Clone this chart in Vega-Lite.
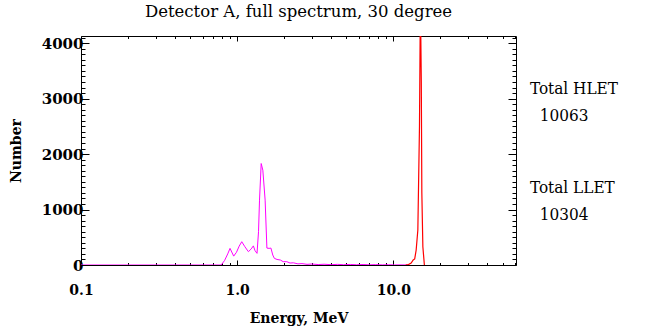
{
  "$schema": "https://vega.github.io/schema/vega-lite/v6.json",
  "width": 435,
  "height": 229,
  "autosize": "none",
  "padding": {"left": 81, "top": 36, "right": 131, "bottom": 61},
  "background": "white",
  "title": {"text": "Detector A, full spectrum, 30 degree", "font": "DejaVu Serif", "fontSize": 16.5, "fontWeight": "normal", "color": "black", "anchor": "middle", "frame": "group", "offset": 10},
  "config": {
    "view": {"stroke": null},
    "axis": {"domainColor": "black", "tickColor": "black", "labelColor": "black", "titleColor": "black", "grid": false, "labelFont": "DejaVu Serif", "titleFont": "DejaVu Serif", "labelFontWeight": "bold", "titleFontWeight": "bold", "labelFontSize": 14, "titleFontSize": 14, "labelOverlap": false, "labelFlush": false, "tickWidth": 1, "domainWidth": 1}
  },
  "datasets": {
    "spectra": [
      {"detector": "LLET", "energy": 0.1, "count": 0},
      {"detector": "LLET", "energy": 0.5, "count": 0},
      {"detector": "LLET", "energy": 0.79, "count": 0},
      {"detector": "LLET", "energy": 0.83, "count": 80},
      {"detector": "LLET", "energy": 0.87, "count": 200},
      {"detector": "LLET", "energy": 0.9, "count": 300},
      {"detector": "LLET", "energy": 0.95, "count": 160},
      {"detector": "LLET", "energy": 0.99, "count": 230},
      {"detector": "LLET", "energy": 1.03, "count": 340},
      {"detector": "LLET", "energy": 1.07, "count": 420},
      {"detector": "LLET", "energy": 1.12, "count": 330},
      {"detector": "LLET", "energy": 1.18, "count": 240},
      {"detector": "LLET", "energy": 1.23, "count": 290},
      {"detector": "LLET", "energy": 1.27, "count": 345},
      {"detector": "LLET", "energy": 1.3, "count": 260},
      {"detector": "LLET", "energy": 1.34, "count": 210},
      {"detector": "LLET", "energy": 1.37, "count": 600},
      {"detector": "LLET", "energy": 1.39, "count": 1170},
      {"detector": "LLET", "energy": 1.425, "count": 1830},
      {"detector": "LLET", "energy": 1.46, "count": 1710},
      {"detector": "LLET", "energy": 1.51, "count": 1170},
      {"detector": "LLET", "energy": 1.55, "count": 305},
      {"detector": "LLET", "energy": 1.6, "count": 300},
      {"detector": "LLET", "energy": 1.645, "count": 305},
      {"detector": "LLET", "energy": 1.69, "count": 180},
      {"detector": "LLET", "energy": 1.73, "count": 120},
      {"detector": "LLET", "energy": 1.8, "count": 100},
      {"detector": "LLET", "energy": 1.89, "count": 90},
      {"detector": "LLET", "energy": 1.97, "count": 60},
      {"detector": "LLET", "energy": 2.08, "count": 60},
      {"detector": "LLET", "energy": 2.18, "count": 35},
      {"detector": "LLET", "energy": 2.29, "count": 40},
      {"detector": "LLET", "energy": 2.45, "count": 20},
      {"detector": "LLET", "energy": 2.6, "count": 25},
      {"detector": "LLET", "energy": 2.8, "count": 12},
      {"detector": "LLET", "energy": 3.0, "count": 18},
      {"detector": "LLET", "energy": 3.3, "count": 8},
      {"detector": "LLET", "energy": 3.6, "count": 14},
      {"detector": "LLET", "energy": 4.0, "count": 6},
      {"detector": "LLET", "energy": 4.4, "count": 12},
      {"detector": "LLET", "energy": 4.8, "count": 5},
      {"detector": "LLET", "energy": 5.3, "count": 10},
      {"detector": "LLET", "energy": 5.8, "count": 4},
      {"detector": "LLET", "energy": 6.4, "count": 9},
      {"detector": "LLET", "energy": 7.0, "count": 3},
      {"detector": "LLET", "energy": 7.7, "count": 7},
      {"detector": "LLET", "energy": 8.5, "count": 2},
      {"detector": "LLET", "energy": 9.3, "count": 5},
      {"detector": "LLET", "energy": 10.2, "count": 1},
      {"detector": "LLET", "energy": 11.2, "count": 2},
      {"detector": "LLET", "energy": 12.5, "count": 0},
      {"detector": "HLET", "energy": 12.0, "count": 0},
      {"detector": "HLET", "energy": 12.5, "count": 8},
      {"detector": "HLET", "energy": 13.0, "count": 35},
      {"detector": "HLET", "energy": 13.4, "count": 90},
      {"detector": "HLET", "energy": 13.7, "count": 110},
      {"detector": "HLET", "energy": 14.0, "count": 270},
      {"detector": "HLET", "energy": 14.35, "count": 630},
      {"detector": "HLET", "energy": 14.7, "count": 2500},
      {"detector": "HLET", "energy": 14.9, "count": 4800},
      {"detector": "HLET", "energy": 15.1, "count": 3300},
      {"detector": "HLET", "energy": 15.22, "count": 1300},
      {"detector": "HLET", "energy": 15.45, "count": 330},
      {"detector": "HLET", "energy": 15.8, "count": 0}
    ],
    "totals": [
      {"detector": "HLET", "total": 10063},
      {"detector": "LLET", "total": 10304}
    ]
  },
  "layer": [
    {
      "data": {"name": "spectra"},
      "transform": [{"filter": "datum.detector == 'LLET'"}],
      "mark": {"type": "line", "color": "#ff00ff", "strokeWidth": 1, "clip": true},
      "encoding": {
        "x": {"field": "energy", "type": "quantitative", "scale": {"type": "log", "domain": [0.1, 61], "nice": false},
          "axis": {"orient": "bottom", "title": "Energy, MeV", "titlePadding": 12,
            "values": [0.1,0.2,0.3,0.4,0.5,0.6,0.7,0.8,0.9,1,2,3,4,5,6,7,8,9,10,20,30,40,50,60],
            "labelExpr": "datum.value == 0.1 ? '0.1' : datum.value == 1 ? '1.0' : datum.value == 10 ? '10.0' : ''",
            "tickSize": {"condition": {"test": "datum.value == 0.1 || datum.value == 1 || datum.value == 10", "value": -5}, "value": -2.5},
            "labelPadding": 23}},
        "y": {"field": "count", "type": "quantitative", "scale": {"domain": [0, 4130], "nice": false, "zero": true},
          "axis": {"orient": "left", "title": "Number", "titlePadding": 18, "labelFontSize": 15,
            "values": [0,100,200,300,400,500,600,700,800,900,1000,1100,1200,1300,1400,1500,1600,1700,1800,1900,2000,2100,2200,2300,2400,2500,2600,2700,2800,2900,3000,3100,3200,3300,3400,3500,3600,3700,3800,3900,4000,4100],
            "labelExpr": "datum.value % 1000 == 0 ? '' + datum.value : ''",
            "tickSize": {"condition": {"test": "datum.value % 1000 == 0", "value": -8}, "value": -4},
            "labelPadding": 6}}
      }
    },
    {
      "data": {"name": "spectra"},
      "transform": [{"filter": "datum.detector == 'HLET'"}],
      "mark": {"type": "line", "color": "#ff0000", "strokeWidth": 1.2, "clip": true},
      "encoding": {
        "x": {"field": "energy", "type": "quantitative", "scale": {"type": "log", "domain": [0.1, 61], "nice": false},
          "axis": {"orient": "top", "title": null, "labels": false,
            "values": [0.1,0.2,0.3,0.4,0.5,0.6,0.7,0.8,0.9,1,2,3,4,5,6,7,8,9,10,20,30,40,50,60],
            "tickSize": {"condition": {"test": "datum.value == 0.1 || datum.value == 1 || datum.value == 10", "value": -5}, "value": -2.5}}},
        "y": {"field": "count", "type": "quantitative", "scale": {"domain": [0, 4130], "nice": false, "zero": true},
          "axis": {"orient": "right", "title": null, "labels": false,
            "values": [0,100,200,300,400,500,600,700,800,900,1000,1100,1200,1300,1400,1500,1600,1700,1800,1900,2000,2100,2200,2300,2400,2500,2600,2700,2800,2900,3000,3100,3200,3300,3400,3500,3600,3700,3800,3900,4000,4100],
            "tickSize": {"condition": {"test": "datum.value % 1000 == 0", "value": -8}, "value": -4}}}
      }
    },
    {
      "data": {"name": "totals"},
      "transform": [{"calculate": "['Total ' + datum.detector, '\u200b\u00a0\u00a0' + datum.total]", "as": "label"}],
      "mark": {"type": "text", "align": "left", "baseline": "middle", "dy": -12, "font": "'DejaVu Serif Condensed', 'DejaVu Serif'", "fontSize": 17, "lineHeight": 27, "color": "black"},
      "encoding": {
        "x": {"datum": 75, "type": "quantitative", "scale": {"type": "log", "domain": [0.1, 61], "nice": false}, "axis": null},
        "y": {"field": "detector", "type": "nominal", "scale": {"type": "point", "domain": ["HLET", "LLET"], "padding": 0.65}, "axis": null},
        "text": {"field": "label"}
      }
    }
  ],
  "resolve": {"axis": {"x": "independent", "y": "independent"}, "scale": {"y": "independent"}}
}
